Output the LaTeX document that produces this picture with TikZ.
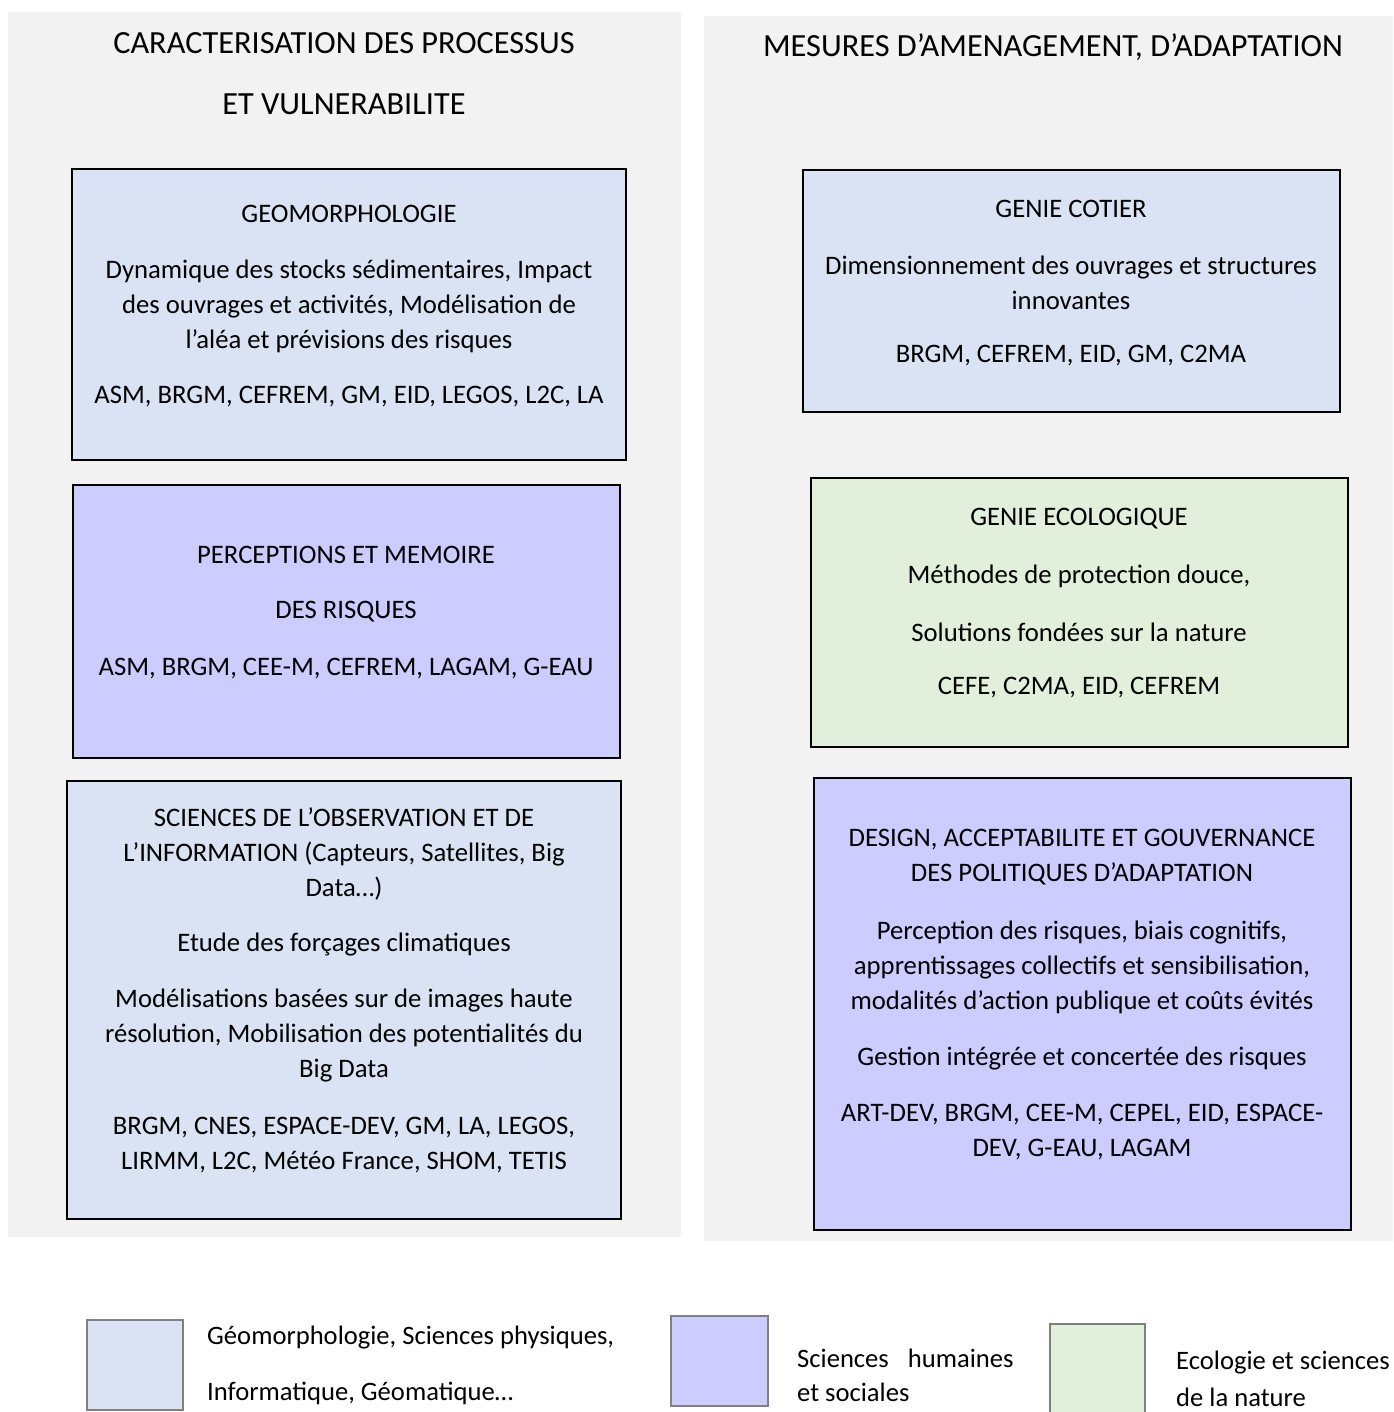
\documentclass[tikz,border=0pt]{standalone}
\usepackage{fontspec}
\setmainfont{Carlito}
\definecolor{panelgray}{RGB}{242,242,242}
\definecolor{boxblue}{RGB}{218,227,243}
\definecolor{boxpurple}{RGB}{204,204,255}
\definecolor{boxgreen}{RGB}{226,239,218}
\definecolor{legendline}{RGB}{128,128,128}
\begin{document}
\begin{tikzpicture}[x=1pt,y=-1pt,
  panel/.style={fill=panelgray,draw=none},
  topicbox/.style={draw=black,line width=2pt},
  legbox/.style={draw=legendline,line width=2pt},
  body/.style={font=\fontsize{26.7}{35}\selectfont,align=center,inner sep=0pt,yshift=-2pt},
  headline/.style={font=\fontsize{32.3}{35}\selectfont,align=center,inner sep=0pt,yshift=-1pt},
  legtext/.style={font=\fontsize{26.6}{35}\selectfont,align=left,inner sep=0pt,anchor=west,yshift=-1pt}
]
\useasboundingbox (0,0) rectangle (1393,1412);
\fill[white] (0,0) rectangle (1393,1412);
% panels
\fill[panel] (8,12) rectangle (681,1237);
\fill[panel] (704,16) rectangle (1393,1241);
\node[headline] (t1) at (344,42) {CARACTERISATION DES PROCESSUS};
\node[headline] (t2) at (344,103) {ET VULNERABILITE};
\node[headline] (t3) at (1053,46) {MESURES D’AMENAGEMENT, D’ADAPTATION};
% left boxes
\draw[topicbox,fill=boxblue] (72,169) rectangle (626,460);
\node[body] (g1) at (349,212) {GEOMORPHOLOGIE};
\node[body] (g2) at (349,304) {Dynamique des stocks sédimentaires, Impact\\des ouvrages et activités, Modélisation de\\l’aléa et prévisions des risques};
\node[body] (g3) at (349,395) {ASM, BRGM, CEFREM, GM, EID, LEGOS, L2C, LA};

\draw[topicbox,fill=boxpurple] (73,485) rectangle (620,758);
\node[body] (p1) at (346,553) {PERCEPTIONS ET MEMOIRE};
\node[body] (p2) at (346,610) {DES RISQUES};
\node[body] (p3) at (346,667) {ASM, BRGM, CEE-M, CEFREM, LAGAM, G-EAU};

\draw[topicbox,fill=boxblue] (67,781) rectangle (621,1219);
\node[body] (s1) at (344,852) {SCIENCES DE L’OBSERVATION ET DE\\L’INFORMATION (Capteurs, Satellites, Big\\Data…)};
\node[body] (s2) at (344,943) {Etude des forçages climatiques};
\node[body] (s3) at (344,1034) {Modélisations basées sur de images haute\\résolution, Mobilisation des potentialités du\\Big Data};
\node[body] (s4) at (344,1143.5) {BRGM, CNES, ESPACE-DEV, GM, LA, LEGOS,\\LIRMM, L2C, Météo France, SHOM, TETIS};
% right boxes
\draw[topicbox,fill=boxblue] (803,170) rectangle (1340,412);
\node[body] (c1) at (1071,207) {GENIE COTIER};
\node[body] (c2) at (1071,280.5) {Dimensionnement des ouvrages et structures\\innovantes};
\node[body] (c3) at (1071,354) {BRGM, CEFREM, EID, GM, C2MA};

\draw[topicbox,fill=boxgreen] (811,478) rectangle (1348,747);
\node[body] (e1) at (1079,517) {GENIE ECOLOGIQUE};
\node[body] (e2) at (1079,574) {Méthodes de protection douce,};
\node[body] (e3) at (1079,630) {Solutions fondées sur la nature};
\node[body] (e4) at (1079,686) {CEFE, C2MA, EID, CEFREM};

\draw[topicbox,fill=boxpurple] (814,778) rectangle (1351,1230);
\node[body] (d1) at (1082,855.5) {DESIGN, ACCEPTABILITE ET GOUVERNANCE\\DES POLITIQUES D’ADAPTATION};
\node[body] (d2) at (1082,965) {Perception des risques, biais cognitifs,\\apprentissages collectifs et sensibilisation,\\modalités d’action publique et coûts évités};
\node[body] (d3) at (1082,1057) {Gestion intégrée et concertée des risques};
\node[body] (d4) at (1082,1130.5) {ART-DEV, BRGM, CEE-M, CEPEL, EID, ESPACE-\\DEV, G-EAU, LAGAM};
% legend
\draw[legbox,fill=boxblue] (87,1320) rectangle (183,1410);
\node[legtext] (l1a) at (207,1337) {Géomorphologie, Sciences physiques,};
\node[legtext] (l1b) at (207,1392) {Informatique, Géomatique…};
\draw[legbox,fill=boxpurple] (671,1316) rectangle (768,1406);
\node[legtext] (l2a) at (797,1357) {Sciences\hspace{19pt}humaines};
\node[legtext] (l2b) at (797,1391) {et sociales};
\draw[legbox,fill=boxgreen] (1050,1324) rectangle (1145,1416);
\node[legtext] (l3a) at (1176,1362) {Ecologie et sciences};
\node[legtext] (l3b) at (1176,1396) {de la nature};
\end{tikzpicture}
\end{document}
